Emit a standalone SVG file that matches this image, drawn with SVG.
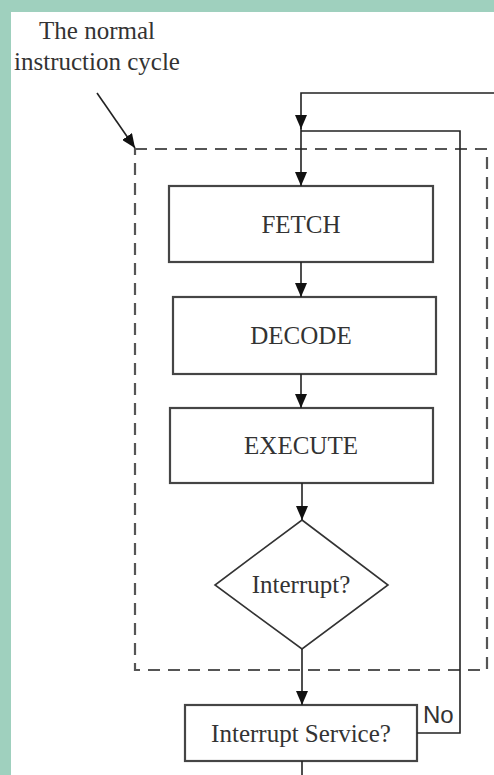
<svg xmlns="http://www.w3.org/2000/svg" width="494" height="775" viewBox="0 0 494 775">
<style>
.box{fill:#fff;stroke:#454545;stroke-width:2.2}
.lbl{font-family:"Liberation Serif","Times New Roman",serif;font-size:25px;fill:#333;text-anchor:middle}
.con{fill:none;stroke:#222;stroke-width:1.6}
.dash{fill:none;stroke:#555;stroke-width:2.2;stroke-dasharray:12 8}
</style>
<defs>
<marker id="ah" markerUnits="userSpaceOnUse" markerWidth="12" markerHeight="14" viewBox="0 0 12 14" refX="6" refY="14" orient="auto-start-reverse">
<path d="M0,0 L12,0 L6,14 Z" fill="#111" transform="rotate(-90 6 7) translate(0 0)"/>
</marker>
<marker id="ar" markerUnits="userSpaceOnUse" markerWidth="14" markerHeight="12" viewBox="0 0 14 12" refX="14" refY="6" orient="auto">
<path d="M0,0 L14,6 L0,12 Z" fill="#111"/>
</marker>
</defs>
<rect x="0" y="0" width="494" height="775" fill="#9fd0be"/>
<rect x="11" y="12" width="483" height="763" fill="#fff"/>

<g id="annotation">
<text class="lbl" x="97" y="39">The normal</text>
<text class="lbl" x="97" y="70">instruction cycle</text>
</g>

<g id="cycle-boundary">
<rect class="dash" x="135" y="149" width="352" height="521"/>
</g>

<g id="fetch">
<rect class="box" x="169" y="186" width="264" height="76"/>
<text class="lbl" x="301" y="233">FETCH</text>
</g>
<g id="decode">
<rect class="box" x="173" y="297" width="263" height="77"/>
<text class="lbl" x="301" y="344">DECODE</text>
</g>
<g id="execute">
<rect class="box" x="170" y="408" width="263" height="75"/>
<text class="lbl" x="301" y="454">EXECUTE</text>
</g>
<g id="interrupt">
<polygon points="302,520 388,585 302,649 215,585" fill="#fff" stroke="#333" stroke-width="1.6"/>
<text class="lbl" x="301" y="593">Interrupt?</text>
</g>
<g id="interrupt-service">
<rect class="box" x="185" y="705" width="232" height="56"/>
<text class="lbl" x="301" y="742">Interrupt Service?</text>
</g>

<g id="connectors">
<line class="con" x1="97" y1="93" x2="135" y2="148" marker-end="url(#ar)"/>
<polyline class="con" points="494,93 301,93 301,129" marker-end="url(#ar)"/>
<line class="con" x1="301" y1="127" x2="301" y2="186" marker-end="url(#ar)"/>
<polyline class="con" points="417,733 460,733 460,131 301,131"/>
<line class="con" x1="301" y1="262" x2="301" y2="297" marker-end="url(#ar)"/>
<line class="con" x1="301" y1="374" x2="301" y2="408" marker-end="url(#ar)"/>
<line class="con" x1="302" y1="483" x2="302" y2="520" marker-end="url(#ar)"/>
<line class="con" x1="302" y1="649" x2="302" y2="705" marker-end="url(#ar)"/>
<line class="con" x1="302" y1="761" x2="302" y2="775"/>
<text x="423" y="723" font-family="'Liberation Sans',Arial,sans-serif" font-size="24" fill="#333">No</text>
</g>
</svg>
